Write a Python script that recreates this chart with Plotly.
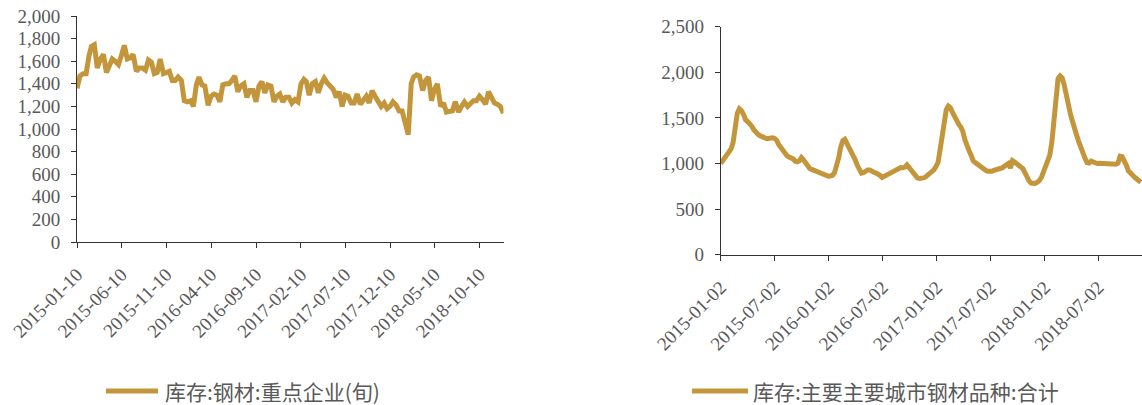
import pandas as pd
import plotly.graph_objects as go

# ---------------- data ----------------
# Left: 库存:钢材:重点企业(旬) — dekadal, 2015-01-10 .. 2018-12-31
left_values = [
    1360, 1470, 1490, 1490, 1650, 1730, 1745, 1540, 1620, 1660,
    1500, 1560, 1620, 1600, 1570, 1650, 1740, 1620, 1630, 1660,
    1510, 1540, 1540, 1520, 1610, 1590, 1490, 1500, 1620, 1490,
    1500, 1510, 1430, 1430, 1460, 1430, 1250, 1240, 1250, 1200,
    1390, 1460, 1390, 1380, 1210, 1290, 1310, 1300, 1240, 1390,
    1400, 1400, 1430, 1470, 1330, 1380, 1400, 1280, 1340, 1340,
    1240, 1380, 1420, 1320, 1390, 1380, 1240, 1290, 1310, 1240,
    1280, 1280, 1230, 1260, 1240, 1400, 1440, 1420, 1300, 1400,
    1420, 1320, 1400, 1450, 1410, 1380, 1350, 1280, 1330, 1200,
    1300, 1290, 1230, 1230, 1310, 1220, 1250, 1290, 1230, 1340,
    1290, 1230, 1200, 1230, 1180, 1200, 1240, 1210, 1160, 1160,
    1060, 950, 1400, 1460, 1480, 1470, 1340, 1430, 1460, 1250,
    1350, 1400, 1200, 1230, 1150, 1150, 1160, 1240, 1150, 1200,
    1240, 1200, 1220, 1250, 1250, 1290, 1260, 1220, 1330, 1290,
    1230, 1220, 1200, 1140,
]
left_dates = []
for yr in range(2015, 2019):
    for mo in range(1, 13):
        month_end = (pd.Timestamp(yr, mo, 1) + pd.offsets.MonthEnd(0)).day
        for d in (10, 20, month_end):
            left_dates.append(pd.Timestamp(yr, mo, d))
left_dates = left_dates[:len(left_values)]
left_ticks = ["2015-01-10", "2015-06-10", "2015-11-10", "2016-04-10", "2016-09-10",
              "2017-02-10", "2017-07-10", "2017-12-10", "2018-05-10", "2018-10-10"]
left_name = "库存:钢材:重点企业(旬)"

# Right: 库存:主要主要城市钢材品种:合计 — weekly from 2015-01-02
right_values = [
    1000, 1030, 1070, 1100, 1120, 1160, 1230, 1400, 1550, 1600,
    1580, 1540, 1480, 1460, 1440, 1410, 1370, 1340, 1320, 1305,
    1295, 1280, 1275, 1275, 1280, 1282, 1275, 1255, 1210, 1175,
    1140, 1105, 1085, 1070, 1062, 1050, 1025, 1018, 1030, 1065,
    1040, 1000, 965, 945, 935, 925, 920, 910, 900, 892,
    880, 865, 860, 862, 870, 900, 965, 1060, 1180, 1250,
    1264, 1220, 1180, 1140, 1100, 1040, 980, 930, 895, 900,
    918, 930, 930, 912, 905, 895, 888, 870, 848, 860,
    875, 885, 900, 915, 928, 940, 950, 955, 953, 960,
    985, 955, 920, 885, 855, 842, 835, 835, 842, 853,
    870, 885, 905, 930, 965, 1010, 1150, 1300, 1420, 1590,
    1630, 1610, 1560, 1510, 1470, 1430, 1400, 1350, 1260, 1180,
    1140, 1090, 1030, 1010, 990, 975, 955, 935, 925, 915,
    908, 915, 925, 928, 935, 945, 952, 965, 985, 1000,
    950, 1030, 1015, 995, 985, 965, 945, 900, 850, 810,
    785, 778, 782, 795, 812, 850, 910, 960, 1000, 1090,
    1230, 1500, 1760, 1930, 1960, 1940, 1860, 1730, 1620, 1540,
    1460, 1400, 1310, 1240, 1170, 1115, 1060, 1010, 1005, 1025,
    1015, 1008, 1000, 1002, 1000, 1005, 1008, 1000, 1000, 998,
    1000, 993, 1005, 1080, 1075, 1035, 980, 920, 890, 870,
    850, 830, 812, 795,
]
right_dates = pd.date_range("2015-01-02", periods=len(right_values), freq="7D")
right_ticks = ["2015-01-02", "2015-07-02", "2016-01-02", "2016-07-02",
               "2017-01-02", "2017-07-02", "2018-01-02", "2018-07-02"]
right_name = "库存:主要主要城市钢材品种:合计"

# ---------------- style ----------------
W, H = 1142, 405
LINE_COLOR = "#C4963C"
AXIS_COLOR = "#333333"
TICK_FONT = dict(family="Liberation Serif", size=19, color="#595959")
LEG_FONT = dict(family="Noto Sans CJK SC", size=21, color="#595959")

fig = go.Figure()
fig.add_trace(go.Scatter(x=left_dates, y=left_values, mode="lines", name=left_name,
                         line=dict(color=LINE_COLOR, width=5), xaxis="x", yaxis="y",
                         showlegend=False))
fig.add_trace(go.Scatter(x=right_dates, y=right_values, mode="lines", name=right_name,
                         line=dict(color=LINE_COLOR, width=5), xaxis="x2", yaxis="y2",
                         showlegend=False))

common_x = dict(type="date", showline=True, linecolor=AXIS_COLOR, linewidth=1,
                ticks="outside", ticklen=5, tickcolor=AXIS_COLOR, showgrid=False,
                zeroline=False, tickangle=-45, tickfont=TICK_FONT, tickformat="%Y-%m-%d",
                tickmode="array", automargin=False, ticklabelstandoff=8)
common_y = dict(showline=True, linecolor=AXIS_COLOR, linewidth=1, ticks="outside",
                ticklen=5, tickcolor=AXIS_COLOR, showgrid=False, zeroline=False,
                tickfont=TICK_FONT, tickformat=",d", ticklabelstandoff=7,
                automargin=False)

fig.update_layout(
    template="none",
    width=W, height=H, margin=dict(l=0, r=0, t=0, b=0, pad=0),
    paper_bgcolor="white", plot_bgcolor="white",
    xaxis=dict(common_x, domain=[77 / W, 503.5 / W], anchor="y",
               range=["2015-01-10", "2018-12-31"], tickvals=left_ticks),
    yaxis=dict(common_y, domain=[1 - 242 / H, 1 - 16 / H], anchor="x",
               range=[0, 2000], dtick=200, tick0=0),
    xaxis2=dict(common_x, domain=[720.7 / W, 1.0], anchor="y2",
                range=["2015-01-02", "2018-11-27"], tickvals=right_ticks),
    yaxis2=dict(common_y, domain=[1 - 254.7 / H, 1 - 26.7 / H], anchor="x2",
                range=[0, 2500], dtick=500, tick0=0),
    showlegend=False,
)

# legends (sample line + text)
legend_y = 1 - 391 / H
for x0, x1, tx, name in [(106, 158, 163, left_name), (692, 748, 751, right_name)]:
    fig.add_shape(type="line", xref="paper", yref="paper", x0=x0 / W, x1=x1 / W,
                  y0=legend_y, y1=legend_y, line=dict(color=LINE_COLOR, width=5))
    fig.add_annotation(xref="paper", yref="paper", x=tx / W, y=legend_y, text=name,
                       showarrow=False, xanchor="left", yanchor="middle", font=LEG_FONT)

fig.write_html("out.html")
